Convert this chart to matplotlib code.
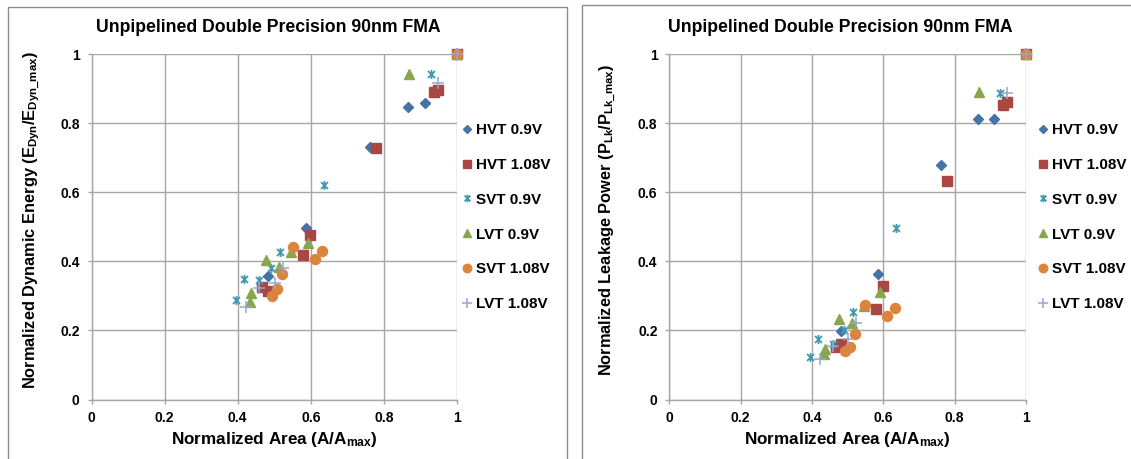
import matplotlib
matplotlib.use("Agg")
import matplotlib.pyplot as plt
from matplotlib.path import Path
from matplotlib.patches import Rectangle

plt.rcParams['font.family'] = ['Liberation Sans', 'DejaVu Sans']
plt.rcParams['font.weight'] = 'bold'
plt.rcParams['mathtext.fontset'] = 'custom'
plt.rcParams['mathtext.rm'] = 'Liberation Sans:bold'
plt.rcParams['mathtext.bf'] = 'Liberation Sans:bold'
plt.rcParams['mathtext.it'] = 'Liberation Sans:bold'

title = "Unpipelined Double Precision 90nm FMA"
series_names = ["HVT 0.9V", "HVT 1.08V", "SVT 0.9V", "LVT 0.9V", "SVT 1.08V", "LVT 1.08V"]

# Normalized area (shared by both charts)
hvt09_area = [0.483, 0.586, 0.763, 0.867, 0.912, 1.0]
hvt108_area = [0.467, 0.483, 0.579, 0.599, 0.779, 0.937, 0.948, 1.0]
svt09_area = [0.396, 0.418, 0.458, 0.491, 0.516, 0.635, 0.929, 1.0]
lvt09_area = [0.433, 0.436, 0.477, 0.512, 0.547, 0.592, 0.868, 1.0]
svt108_area = [0.494, 0.508, 0.520, 0.550, 0.611, 0.632, 1.0]
lvt108_area = [0.424, 0.459, 0.501, 0.525, 0.948, 1.0]

# Normalized dynamic energy (left chart)
hvt09_energy = [0.358, 0.496, 0.730, 0.847, 0.857, 1.0]
hvt108_energy = [0.325, 0.315, 0.417, 0.475, 0.727, 0.889, 0.897, 1.0]
svt09_energy = [0.288, 0.348, 0.347, 0.382, 0.426, 0.622, 0.941, 1.0]
lvt09_energy = [0.283, 0.307, 0.403, 0.384, 0.427, 0.452, 0.941, 1.0]
svt108_energy = [0.300, 0.319, 0.363, 0.440, 0.408, 0.430, 1.0]
lvt108_energy = [0.267, 0.322, 0.338, 0.380, 0.915, 1.0]

# Normalized leakage power (right chart)
hvt09_leak = [0.199, 0.362, 0.680, 0.813, 0.813, 1.0]
hvt108_leak = [0.152, 0.160, 0.261, 0.329, 0.633, 0.852, 0.861, 1.0]
svt09_leak = [0.122, 0.176, 0.162, 0.200, 0.254, 0.497, 0.887, 1.0]
lvt09_leak = [0.133, 0.145, 0.232, 0.220, 0.272, 0.311, 0.890, 1.0]
svt108_leak = [0.140, 0.152, 0.191, 0.273, 0.241, 0.266, 1.0]
lvt108_leak = [0.117, 0.154, 0.176, 0.220, 0.886, 1.0]

ticks = [0, 0.2, 0.4, 0.6, 0.8, 1]
tick_labels = ["0", "0.2", "0.4", "0.6", "0.8", "1"]

star = Path([(-1, -1), (1, 1), (-1, 1), (1, -1), (0, -1.3), (0, 1.3)],
            [Path.MOVETO, Path.LINETO, Path.MOVETO, Path.LINETO, Path.MOVETO, Path.LINETO])

styles = [
    dict(marker='D', ms=5.2, mfc='#4572A7', mec='#4572A7'),
    dict(marker='s', ms=6.5, mfc='#AA4643', mec='#AA4643'),
    dict(marker=star, ms=6.5, mfc='none', mec='#4198AF', mew=1.3),
    dict(marker='^', ms=6.8, mfc='#89A54E', mec='#89A54E'),
    dict(marker='o', ms=7.2, mfc='#DB843D', mec='#DB843D'),
    dict(marker='+', ms=8.0, mfc='#93A9CF', mec='#93A9CF', mew=1.1),
]

areas = [hvt09_area, hvt108_area, svt09_area, lvt09_area, svt108_area, lvt108_area]
energies = [hvt09_energy, hvt108_energy, svt09_energy, lvt09_energy, svt108_energy, lvt108_energy]
leaks = [hvt09_leak, hvt108_leak, svt09_leak, lvt09_leak, svt108_leak, lvt108_leak]

W, H = 1131, 459
fig = plt.figure(figsize=(W / 100, H / 100), dpi=100)

# chart frames
fig.patches.append(Rectangle((8 / W, -0.1), (567 - 8) / W, 1.1 - 7 / H, transform=fig.transFigure,
                             fill=False, edgecolor='#8c8c8c', lw=1.0))
fig.patches.append(Rectangle((582 / W, -0.1), (1140 - 582) / W, 1.1 - 5 / H, transform=fig.transFigure,
                             fill=False, edgecolor='#8c8c8c', lw=1.0))


def make_axes(left_px, right_px, ys, ylabel, title_cx, ylab_x, leg_x):
    top_px, bot_px = 54, 399.5
    ax = fig.add_axes([left_px / W, (H - bot_px) / H, (right_px - left_px) / W, (bot_px - top_px) / H])
    for name, x, y, st in zip(series_names, areas, ys, styles):
        ax.plot(x, y, linestyle='none', marker=st['marker'], ms=st['ms'], mfc=st['mfc'],
                mec=st['mec'], mew=st.get('mew', 1.0), label=name, zorder=3, clip_on=False)
    ax.set_xlim(0, 1)
    ax.set_ylim(0, 1)
    ax.set_xticks(ticks)
    ax.set_xticklabels(tick_labels)
    ax.set_yticks(ticks)
    ax.set_yticklabels(tick_labels)
    ax.grid(True, color='#a6a6a6', lw=1.0, zorder=0)
    ax.set_axisbelow(True)
    for s in ['top', 'right']:
        ax.spines[s].set_visible(False)
    for s in ['left', 'bottom']:
        ax.spines[s].set_color('#a6a6a6')
        ax.spines[s].set_linewidth(1.0)
    ax.tick_params(axis='both', length=3, width=1, color='#a6a6a6', labelsize=10, pad=5.5)
    for lab in ax.get_xticklabels() + ax.get_yticklabels():
        lab.set_fontweight('bold')
    ax.set_xlabel(r"Normalized Area (A/A$_{\rm max}$)", fontsize=12.3, fontweight='bold')
    ax.xaxis.set_label_coords(0.5, -0.088)
    ax.set_ylabel(ylabel, fontsize=11.8, fontweight='bold')
    ax.yaxis.set_label_coords((ylab_x - left_px) / (right_px - left_px), 0.52)
    fig.text(title_cx / W, 1 - 27 / H, title, ha='center', va='center', fontsize=12.7, fontweight='bold')
    ax.legend(loc='upper left', bbox_to_anchor=(leg_x, 0.813), frameon=False,
              handlelength=0.7, handletextpad=0.25, labelspacing=1.36, borderaxespad=0.1,
              borderpad=0.2, markerscale=0.85, prop={'weight': 'bold', 'size': 11})
    return ax


make_axes(91.5, 457, energies,
          r"Normalized Dynamic Energy (E$_{\rm Dyn}$/E$_{\rm Dyn\_max}$)", 268, 42, 1.0)
make_axes(669.3, 1025.8, leaks,
          r"Normalized Leakage Power (P$_{\rm Lk}$/P$_{\rm Lk\_max}$)", 840, 619, 1.02)

fig.savefig("out.png", dpi=100)
